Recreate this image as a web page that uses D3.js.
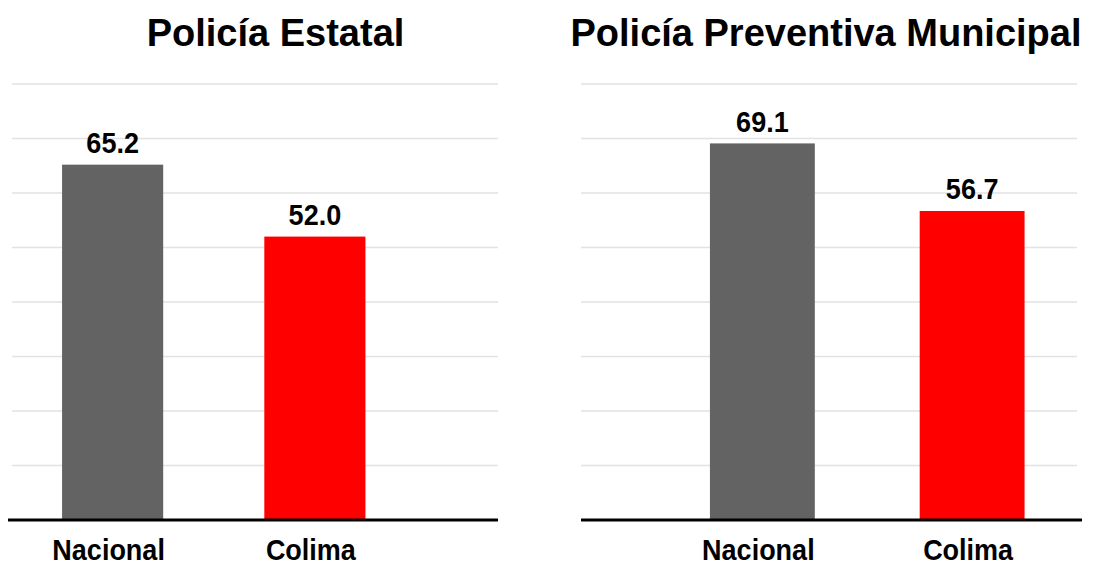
<!DOCTYPE html>
<html>
<head>
<meta charset="utf-8">
<script src="https://cdn.jsdelivr.net/npm/d3@7"></script>
<style>
  html, body { margin: 0; padding: 0; background: #ffffff; }
  svg { display: block; font-family: "Liberation Sans", Arial, sans-serif; }
</style>
</head>
<body>
<svg id="chart" width="1102" height="566"></svg>
<script>
// Chart data
const categories = ["Nacional", "Colima"];
const panelTitles = ["Policía Estatal", "Policía Preventiva Municipal"];
const estatalValues = [65.2, 52.0];
const municipalValues = [69.1, 56.7];
const gridTicks = [0, 10, 20, 30, 40, 50, 60, 70, 80];
const barColors = ["#636363", "#ff0000"];

const svg = d3.select("#chart");

// Shared vertical scale for both panels
const y = d3.scaleLinear().domain([0, 80]).range([520, 84]);

// Layout of each panel (grid extent, band range, title centre)
const panels = [
  { title: panelTitles[0], values: estatalValues,
    gridX: [12, 498], baseX: [8, 498], band: [11.5, 416], titleX: 275.5 },
  { title: panelTitles[1], values: municipalValues,
    gridX: [581, 1077], baseX: [581, 1082], band: [657.5, 1077], titleX: 826 }
];

// Bold label with a slightly taller glyph shape
function tallText(sel, x, yPos) {
  return sel
    .attr("transform", (d, i) => `translate(${x(d, i)},${yPos(d, i)}) scale(1,1.09)`)
    .attr("text-anchor", "middle")
    .attr("font-size", 27)
    .attr("font-weight", "bold")
    .attr("fill", "#000");
}

panels.forEach(p => {
  const g = svg.append("g");

  const x = d3.scaleBand()
    .domain(categories)
    .range(p.band)
    .paddingInner(0.5)
    .paddingOuter(0.25);

  // Horizontal gridlines
  g.selectAll("line.grid")
    .data(gridTicks.filter(t => t > 0))
    .join("line")
    .attr("class", "grid")
    .attr("x1", p.gridX[0])
    .attr("x2", p.gridX[1])
    .attr("y1", d => y(d))
    .attr("y2", d => y(d))
    .attr("stroke", "#e2e2e2")
    .attr("stroke-width", 1.5);

  // Bars
  g.selectAll("rect.bar")
    .data(p.values)
    .join("rect")
    .attr("class", "bar")
    .attr("x", (d, i) => x(categories[i]))
    .attr("width", x.bandwidth())
    .attr("y", d => y(d))
    .attr("height", d => y(0) - y(d))
    .attr("fill", (d, i) => barColors[i]);

  // Value labels
  g.selectAll("text.value")
    .data(p.values)
    .join("text")
    .attr("class", "value")
    .call(tallText,
      (d, i) => x(categories[i]) + x.bandwidth() / 2,
      d => y(d) - 11.5)
    .text(d => d.toFixed(1));

  // Baseline
  g.append("line")
    .attr("x1", p.baseX[0])
    .attr("x2", p.baseX[1])
    .attr("y1", y(0))
    .attr("y2", y(0))
    .attr("stroke", "#000")
    .attr("stroke-width", 3);

  // Category labels
  g.selectAll("text.cat")
    .data(categories)
    .join("text")
    .attr("class", "cat")
    .call(tallText,
      d => x(d) + x.bandwidth() / 2 - 4,
      () => 559.5)
    .text(d => d);

  // Panel title
  g.append("text")
    .attr("x", p.titleX)
    .attr("y", 46)
    .attr("text-anchor", "middle")
    .attr("font-size", 38)
    .attr("font-weight", "bold")
    .attr("fill", "#000")
    .text(p.title);
});
</script>
</body>
</html>
